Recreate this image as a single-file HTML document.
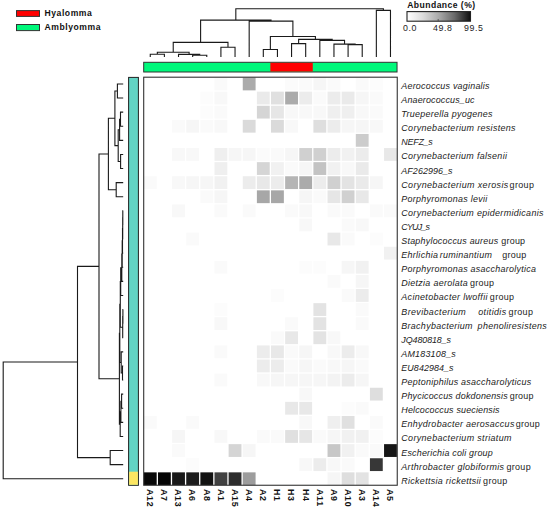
<!DOCTYPE html><html><head><meta charset="utf-8"><style>html,body{margin:0;padding:0;background:#fff;}svg{display:block;}text{font-family:"Liberation Sans",sans-serif;}</style></head><body>
<svg width="550" height="509" viewBox="0 0 550 509">
<rect width="550" height="509" fill="#fff"/>
<rect x="16.5" y="10.6" width="23" height="5.8" fill="#ff0000" stroke="#333" stroke-width="1"/>
<rect x="16.5" y="24.5" width="23" height="6.1" fill="#00f87b" stroke="#333" stroke-width="1"/>
<text x="44.5" y="16.2" font-size="8.6" font-weight="bold" letter-spacing="0.55" fill="#111">Hyalomma</text>
<text x="44.5" y="30.0" font-size="8.6" font-weight="bold" letter-spacing="0.55" fill="#111">Amblyomma</text>
<defs><linearGradient id="gb" x1="0" x2="1" y1="0" y2="0"><stop offset="0" stop-color="#fff"/><stop offset="0.25" stop-color="rgb(220,220,220)"/><stop offset="0.5" stop-color="rgb(170,170,170)"/><stop offset="0.75" stop-color="rgb(105,105,105)"/><stop offset="1" stop-color="rgb(15,15,15)"/></linearGradient></defs>
<text x="407.2" y="8.0" font-size="8.6" font-weight="bold" letter-spacing="0.45" fill="#111">Abundance (%)</text>
<rect x="407.0" y="11.6" width="63.5" height="9.6" fill="url(#gb)" stroke="#222" stroke-width="1.1"/>
<line x1="438.2" y1="19" x2="438.2" y2="21" stroke="#444" stroke-width="0.8"/>
<text x="402.9" y="31" font-size="8.8" letter-spacing="0.6" fill="#222">0.0</text>
<text x="432.9" y="31" font-size="8.8" letter-spacing="0.6" fill="#222">49.8</text>
<text x="464.1" y="31" font-size="8.8" letter-spacing="0.6" fill="#222">99.5</text>
<path d="M150.26,57.00V54.30H164.39V57.00M192.66,57.00V55.30H206.78V57.00M178.52,57.00V54.40H199.72V55.30M157.33,54.30V52.20H189.12V54.40M220.91,57.00V47.30H235.04V57.00M173.23,52.20V42.40H227.98V47.30M263.31,57.00V49.50H277.44V57.00M291.56,57.00V43.60H305.69V57.00M348.09,57.00V44.60H362.22V57.00M333.96,57.00V44.10H355.15V44.60M319.82,57.00V40.40H344.55V44.10M298.63,43.60V39.40H332.19V40.40M270.37,49.50V36.50H315.41V39.40M249.18,57.00V21.10H292.89V36.50M200.60,42.40V20.10H271.03V21.10M376.35,57.00V10.40H390.48V57.00M235.82,20.10V8.70H383.41V10.40" fill="none" stroke="#1a1a1a" stroke-width="1.1"/>
<path d="M123.20,83.95H117.40V98.05H123.20M123.20,112.15H120.50V126.25H123.20M120.50,119.20H119.60V140.35H123.20M123.20,154.45H120.60V168.55H123.20M119.60,129.78H118.20V161.50H120.60M117.40,91.00H114.90V145.64H118.20M123.20,182.65H116.20V196.75H123.20M114.90,118.32H108.40V189.70H116.20M123.20,210.85H122.80V224.95H123.20M122.80,217.90H122.70V239.05H123.20M122.70,228.47H122.50V253.15H123.20M122.50,240.81H122.20V267.25H123.20M122.20,254.03H121.80V281.35H123.20M121.80,267.69H120.70V295.45H123.20M123.20,309.55H122.90V323.65H123.20M122.90,316.60H122.70V337.75H123.20M120.70,281.57H120.30V327.18H122.70M123.20,365.95H122.50V380.05H123.20M123.20,351.85H121.20V373.00H122.50M120.30,304.37H119.80V362.43H121.20M123.20,394.15H121.60V408.25H123.20M121.60,401.20H120.90V422.35H123.20M120.90,411.77H120.20V436.45H123.20M119.80,333.40H119.40V424.11H120.20M108.40,154.01H99.00V378.76H119.40M123.20,450.55H110.20V464.65H123.20M99.00,266.38H77.50V457.60H110.20M77.50,361.99H3.20V478.75H123.20" fill="none" stroke="#1a1a1a" stroke-width="1.1"/>
<rect x="143.70" y="62.3" width="253.34" height="9.7" fill="#00f87b" stroke="#333" stroke-width="1"/>
<rect x="270.37" y="62.8" width="42.39" height="8.7" fill="#ff0000"/>
<rect x="128.6" y="77.40" width="9.8" height="407.90" fill="#62d3c4" stroke="#222" stroke-width="1"/>
<rect x="129.1" y="471.70" width="8.8" height="13.10" fill="#fde662"/>
<rect x="214.50" y="77.55" width="12.83" height="12.80" fill="rgb(250,250,250)"/>
<rect x="242.76" y="77.55" width="12.83" height="12.80" fill="rgb(171,171,171)"/>
<rect x="285.15" y="77.55" width="12.83" height="12.80" fill="rgb(251,251,251)"/>
<rect x="299.28" y="77.55" width="12.83" height="12.80" fill="rgb(250,250,250)"/>
<rect x="313.41" y="77.55" width="12.83" height="12.80" fill="rgb(246,246,246)"/>
<rect x="327.54" y="77.55" width="12.83" height="12.80" fill="rgb(250,250,250)"/>
<rect x="355.80" y="77.55" width="12.83" height="12.80" fill="rgb(250,250,250)"/>
<rect x="369.93" y="77.55" width="12.83" height="12.80" fill="rgb(252,252,252)"/>
<rect x="200.37" y="91.65" width="12.83" height="12.80" fill="rgb(252,252,252)"/>
<rect x="214.50" y="91.65" width="12.83" height="12.80" fill="rgb(248,248,248)"/>
<rect x="256.89" y="91.65" width="12.83" height="12.80" fill="rgb(234,234,234)"/>
<rect x="271.02" y="91.65" width="12.83" height="12.80" fill="rgb(224,224,224)"/>
<rect x="285.15" y="91.65" width="12.83" height="12.80" fill="rgb(171,171,171)"/>
<rect x="299.28" y="91.65" width="12.83" height="12.80" fill="rgb(236,236,236)"/>
<rect x="313.41" y="91.65" width="12.83" height="12.80" fill="rgb(250,250,250)"/>
<rect x="327.54" y="91.65" width="12.83" height="12.80" fill="rgb(236,236,236)"/>
<rect x="341.67" y="91.65" width="12.83" height="12.80" fill="rgb(234,234,234)"/>
<rect x="355.80" y="91.65" width="12.83" height="12.80" fill="rgb(246,246,246)"/>
<rect x="369.93" y="91.65" width="12.83" height="12.80" fill="rgb(250,250,250)"/>
<rect x="200.37" y="105.75" width="12.83" height="12.80" fill="rgb(252,252,252)"/>
<rect x="214.50" y="105.75" width="12.83" height="12.80" fill="rgb(250,250,250)"/>
<rect x="256.89" y="105.75" width="12.83" height="12.80" fill="rgb(213,213,213)"/>
<rect x="271.02" y="105.75" width="12.83" height="12.80" fill="rgb(230,230,230)"/>
<rect x="285.15" y="105.75" width="12.83" height="12.80" fill="rgb(248,248,248)"/>
<rect x="299.28" y="105.75" width="12.83" height="12.80" fill="rgb(248,248,248)"/>
<rect x="313.41" y="105.75" width="12.83" height="12.80" fill="rgb(248,248,248)"/>
<rect x="327.54" y="105.75" width="12.83" height="12.80" fill="rgb(239,239,239)"/>
<rect x="341.67" y="105.75" width="12.83" height="12.80" fill="rgb(239,239,239)"/>
<rect x="355.80" y="105.75" width="12.83" height="12.80" fill="rgb(248,248,248)"/>
<rect x="369.93" y="105.75" width="12.83" height="12.80" fill="rgb(250,250,250)"/>
<rect x="172.11" y="119.85" width="12.83" height="12.80" fill="rgb(250,250,250)"/>
<rect x="186.24" y="119.85" width="12.83" height="12.80" fill="rgb(246,246,246)"/>
<rect x="200.37" y="119.85" width="12.83" height="12.80" fill="rgb(250,250,250)"/>
<rect x="214.50" y="119.85" width="12.83" height="12.80" fill="rgb(248,248,248)"/>
<rect x="242.76" y="119.85" width="12.83" height="12.80" fill="rgb(218,218,218)"/>
<rect x="271.02" y="119.85" width="12.83" height="12.80" fill="rgb(218,218,218)"/>
<rect x="285.15" y="119.85" width="12.83" height="12.80" fill="rgb(248,248,248)"/>
<rect x="313.41" y="119.85" width="12.83" height="12.80" fill="rgb(222,222,222)"/>
<rect x="327.54" y="119.85" width="12.83" height="12.80" fill="rgb(236,236,236)"/>
<rect x="341.67" y="119.85" width="12.83" height="12.80" fill="rgb(246,246,246)"/>
<rect x="355.80" y="119.85" width="12.83" height="12.80" fill="rgb(246,246,246)"/>
<rect x="369.93" y="119.85" width="12.83" height="12.80" fill="rgb(248,248,248)"/>
<rect x="355.80" y="133.95" width="12.83" height="12.80" fill="rgb(204,204,204)"/>
<rect x="172.11" y="148.05" width="12.83" height="12.80" fill="rgb(248,248,248)"/>
<rect x="186.24" y="148.05" width="12.83" height="12.80" fill="rgb(248,248,248)"/>
<rect x="214.50" y="148.05" width="12.83" height="12.80" fill="rgb(239,239,239)"/>
<rect x="228.63" y="148.05" width="12.83" height="12.80" fill="rgb(246,246,246)"/>
<rect x="242.76" y="148.05" width="12.83" height="12.80" fill="rgb(246,246,246)"/>
<rect x="256.89" y="148.05" width="12.83" height="12.80" fill="rgb(251,251,251)"/>
<rect x="271.02" y="148.05" width="12.83" height="12.80" fill="rgb(250,250,250)"/>
<rect x="285.15" y="148.05" width="12.83" height="12.80" fill="rgb(246,246,246)"/>
<rect x="299.28" y="148.05" width="12.83" height="12.80" fill="rgb(208,208,208)"/>
<rect x="313.41" y="148.05" width="12.83" height="12.80" fill="rgb(208,208,208)"/>
<rect x="327.54" y="148.05" width="12.83" height="12.80" fill="rgb(236,236,236)"/>
<rect x="341.67" y="148.05" width="12.83" height="12.80" fill="rgb(241,241,241)"/>
<rect x="355.80" y="148.05" width="12.83" height="12.80" fill="rgb(236,236,236)"/>
<rect x="384.06" y="148.05" width="12.83" height="12.80" fill="rgb(232,232,232)"/>
<rect x="214.50" y="162.15" width="12.83" height="12.80" fill="rgb(239,239,239)"/>
<rect x="256.89" y="162.15" width="12.83" height="12.80" fill="rgb(213,213,213)"/>
<rect x="271.02" y="162.15" width="12.83" height="12.80" fill="rgb(241,241,241)"/>
<rect x="285.15" y="162.15" width="12.83" height="12.80" fill="rgb(250,250,250)"/>
<rect x="299.28" y="162.15" width="12.83" height="12.80" fill="rgb(246,246,246)"/>
<rect x="313.41" y="162.15" width="12.83" height="12.80" fill="rgb(195,195,195)"/>
<rect x="327.54" y="162.15" width="12.83" height="12.80" fill="rgb(241,241,241)"/>
<rect x="341.67" y="162.15" width="12.83" height="12.80" fill="rgb(248,248,248)"/>
<rect x="355.80" y="162.15" width="12.83" height="12.80" fill="rgb(234,234,234)"/>
<rect x="143.85" y="176.25" width="12.83" height="12.80" fill="rgb(250,250,250)"/>
<rect x="172.11" y="176.25" width="12.83" height="12.80" fill="rgb(248,248,248)"/>
<rect x="186.24" y="176.25" width="12.83" height="12.80" fill="rgb(246,246,246)"/>
<rect x="200.37" y="176.25" width="12.83" height="12.80" fill="rgb(246,246,246)"/>
<rect x="214.50" y="176.25" width="12.83" height="12.80" fill="rgb(241,241,241)"/>
<rect x="242.76" y="176.25" width="12.83" height="12.80" fill="rgb(236,236,236)"/>
<rect x="256.89" y="176.25" width="12.83" height="12.80" fill="rgb(232,232,232)"/>
<rect x="271.02" y="176.25" width="12.83" height="12.80" fill="rgb(236,236,236)"/>
<rect x="285.15" y="176.25" width="12.83" height="12.80" fill="rgb(181,181,181)"/>
<rect x="299.28" y="176.25" width="12.83" height="12.80" fill="rgb(171,171,171)"/>
<rect x="313.41" y="176.25" width="12.83" height="12.80" fill="rgb(236,236,236)"/>
<rect x="327.54" y="176.25" width="12.83" height="12.80" fill="rgb(208,208,208)"/>
<rect x="341.67" y="176.25" width="12.83" height="12.80" fill="rgb(227,227,227)"/>
<rect x="355.80" y="176.25" width="12.83" height="12.80" fill="rgb(234,234,234)"/>
<rect x="369.93" y="176.25" width="12.83" height="12.80" fill="rgb(246,246,246)"/>
<rect x="200.37" y="190.35" width="12.83" height="12.80" fill="rgb(250,250,250)"/>
<rect x="214.50" y="190.35" width="12.83" height="12.80" fill="rgb(246,246,246)"/>
<rect x="256.89" y="190.35" width="12.83" height="12.80" fill="rgb(167,167,167)"/>
<rect x="271.02" y="190.35" width="12.83" height="12.80" fill="rgb(167,167,167)"/>
<rect x="299.28" y="190.35" width="12.83" height="12.80" fill="rgb(246,246,246)"/>
<rect x="313.41" y="190.35" width="12.83" height="12.80" fill="rgb(250,250,250)"/>
<rect x="327.54" y="190.35" width="12.83" height="12.80" fill="rgb(230,230,230)"/>
<rect x="341.67" y="190.35" width="12.83" height="12.80" fill="rgb(208,208,208)"/>
<rect x="355.80" y="190.35" width="12.83" height="12.80" fill="rgb(232,232,232)"/>
<rect x="172.11" y="204.45" width="12.83" height="12.80" fill="rgb(248,248,248)"/>
<rect x="214.50" y="204.45" width="12.83" height="12.80" fill="rgb(250,250,250)"/>
<rect x="242.76" y="204.45" width="12.83" height="12.80" fill="rgb(250,250,250)"/>
<rect x="285.15" y="204.45" width="12.83" height="12.80" fill="rgb(250,250,250)"/>
<rect x="299.28" y="204.45" width="12.83" height="12.80" fill="rgb(248,248,248)"/>
<rect x="327.54" y="204.45" width="12.83" height="12.80" fill="rgb(250,250,250)"/>
<rect x="341.67" y="204.45" width="12.83" height="12.80" fill="rgb(250,250,250)"/>
<rect x="369.93" y="204.45" width="12.83" height="12.80" fill="rgb(250,250,250)"/>
<rect x="384.06" y="204.45" width="12.83" height="12.80" fill="rgb(250,250,250)"/>
<rect x="299.28" y="218.55" width="12.83" height="12.80" fill="rgb(248,248,248)"/>
<rect x="341.67" y="218.55" width="12.83" height="12.80" fill="rgb(250,250,250)"/>
<rect x="355.80" y="218.55" width="12.83" height="12.80" fill="rgb(248,248,248)"/>
<rect x="186.24" y="232.65" width="12.83" height="12.80" fill="rgb(250,250,250)"/>
<rect x="327.54" y="232.65" width="12.83" height="12.80" fill="rgb(232,232,232)"/>
<rect x="341.67" y="232.65" width="12.83" height="12.80" fill="rgb(250,250,250)"/>
<rect x="369.93" y="232.65" width="12.83" height="12.80" fill="rgb(252,252,252)"/>
<rect x="384.06" y="246.75" width="12.83" height="12.80" fill="rgb(241,241,241)"/>
<rect x="214.50" y="260.85" width="12.83" height="12.80" fill="rgb(250,250,250)"/>
<rect x="299.28" y="260.85" width="12.83" height="12.80" fill="rgb(252,252,252)"/>
<rect x="313.41" y="260.85" width="12.83" height="12.80" fill="rgb(252,252,252)"/>
<rect x="341.67" y="260.85" width="12.83" height="12.80" fill="rgb(246,246,246)"/>
<rect x="355.80" y="260.85" width="12.83" height="12.80" fill="rgb(241,241,241)"/>
<rect x="327.54" y="274.95" width="12.83" height="12.80" fill="rgb(250,250,250)"/>
<rect x="355.80" y="274.95" width="12.83" height="12.80" fill="rgb(246,246,246)"/>
<rect x="271.02" y="289.05" width="12.83" height="12.80" fill="rgb(252,252,252)"/>
<rect x="341.67" y="289.05" width="12.83" height="12.80" fill="rgb(250,250,250)"/>
<rect x="355.80" y="289.05" width="12.83" height="12.80" fill="rgb(236,236,236)"/>
<rect x="214.50" y="303.15" width="12.83" height="12.80" fill="rgb(252,252,252)"/>
<rect x="313.41" y="303.15" width="12.83" height="12.80" fill="rgb(227,227,227)"/>
<rect x="355.80" y="303.15" width="12.83" height="12.80" fill="rgb(250,250,250)"/>
<rect x="214.50" y="317.25" width="12.83" height="12.80" fill="rgb(248,248,248)"/>
<rect x="285.15" y="317.25" width="12.83" height="12.80" fill="rgb(250,250,250)"/>
<rect x="313.41" y="317.25" width="12.83" height="12.80" fill="rgb(227,227,227)"/>
<rect x="355.80" y="317.25" width="12.83" height="12.80" fill="rgb(250,250,250)"/>
<rect x="271.02" y="331.35" width="12.83" height="12.80" fill="rgb(250,250,250)"/>
<rect x="285.15" y="331.35" width="12.83" height="12.80" fill="rgb(232,232,232)"/>
<rect x="313.41" y="331.35" width="12.83" height="12.80" fill="rgb(227,227,227)"/>
<rect x="327.54" y="331.35" width="12.83" height="12.80" fill="rgb(248,248,248)"/>
<rect x="214.50" y="345.45" width="12.83" height="12.80" fill="rgb(250,250,250)"/>
<rect x="256.89" y="345.45" width="12.83" height="12.80" fill="rgb(236,236,236)"/>
<rect x="271.02" y="345.45" width="12.83" height="12.80" fill="rgb(232,232,232)"/>
<rect x="285.15" y="345.45" width="12.83" height="12.80" fill="rgb(250,250,250)"/>
<rect x="299.28" y="345.45" width="12.83" height="12.80" fill="rgb(246,246,246)"/>
<rect x="327.54" y="345.45" width="12.83" height="12.80" fill="rgb(248,248,248)"/>
<rect x="341.67" y="345.45" width="12.83" height="12.80" fill="rgb(236,236,236)"/>
<rect x="355.80" y="345.45" width="12.83" height="12.80" fill="rgb(248,248,248)"/>
<rect x="256.89" y="359.55" width="12.83" height="12.80" fill="rgb(236,236,236)"/>
<rect x="271.02" y="359.55" width="12.83" height="12.80" fill="rgb(236,236,236)"/>
<rect x="285.15" y="359.55" width="12.83" height="12.80" fill="rgb(250,250,250)"/>
<rect x="299.28" y="359.55" width="12.83" height="12.80" fill="rgb(246,246,246)"/>
<rect x="313.41" y="359.55" width="12.83" height="12.80" fill="rgb(250,250,250)"/>
<rect x="327.54" y="359.55" width="12.83" height="12.80" fill="rgb(248,248,248)"/>
<rect x="341.67" y="359.55" width="12.83" height="12.80" fill="rgb(246,246,246)"/>
<rect x="355.80" y="359.55" width="12.83" height="12.80" fill="rgb(250,250,250)"/>
<rect x="214.50" y="373.65" width="12.83" height="12.80" fill="rgb(250,250,250)"/>
<rect x="256.89" y="373.65" width="12.83" height="12.80" fill="rgb(248,248,248)"/>
<rect x="271.02" y="373.65" width="12.83" height="12.80" fill="rgb(246,246,246)"/>
<rect x="285.15" y="373.65" width="12.83" height="12.80" fill="rgb(246,246,246)"/>
<rect x="299.28" y="373.65" width="12.83" height="12.80" fill="rgb(246,246,246)"/>
<rect x="313.41" y="373.65" width="12.83" height="12.80" fill="rgb(246,246,246)"/>
<rect x="327.54" y="373.65" width="12.83" height="12.80" fill="rgb(243,243,243)"/>
<rect x="341.67" y="373.65" width="12.83" height="12.80" fill="rgb(236,236,236)"/>
<rect x="355.80" y="373.65" width="12.83" height="12.80" fill="rgb(246,246,246)"/>
<rect x="299.28" y="387.75" width="12.83" height="12.80" fill="rgb(248,248,248)"/>
<rect x="369.93" y="387.75" width="12.83" height="12.80" fill="rgb(222,222,222)"/>
<rect x="285.15" y="401.85" width="12.83" height="12.80" fill="rgb(232,232,232)"/>
<rect x="299.28" y="401.85" width="12.83" height="12.80" fill="rgb(232,232,232)"/>
<rect x="341.67" y="401.85" width="12.83" height="12.80" fill="rgb(252,252,252)"/>
<rect x="355.80" y="401.85" width="12.83" height="12.80" fill="rgb(250,250,250)"/>
<rect x="143.85" y="415.95" width="12.83" height="12.80" fill="rgb(250,250,250)"/>
<rect x="186.24" y="415.95" width="12.83" height="12.80" fill="rgb(250,250,250)"/>
<rect x="299.28" y="415.95" width="12.83" height="12.80" fill="rgb(248,248,248)"/>
<rect x="327.54" y="415.95" width="12.83" height="12.80" fill="rgb(239,239,239)"/>
<rect x="341.67" y="415.95" width="12.83" height="12.80" fill="rgb(224,224,224)"/>
<rect x="369.93" y="415.95" width="12.83" height="12.80" fill="rgb(250,250,250)"/>
<rect x="172.11" y="430.05" width="12.83" height="12.80" fill="rgb(246,246,246)"/>
<rect x="214.50" y="430.05" width="12.83" height="12.80" fill="rgb(248,248,248)"/>
<rect x="256.89" y="430.05" width="12.83" height="12.80" fill="rgb(250,250,250)"/>
<rect x="271.02" y="430.05" width="12.83" height="12.80" fill="rgb(250,250,250)"/>
<rect x="285.15" y="430.05" width="12.83" height="12.80" fill="rgb(224,224,224)"/>
<rect x="299.28" y="430.05" width="12.83" height="12.80" fill="rgb(230,230,230)"/>
<rect x="313.41" y="430.05" width="12.83" height="12.80" fill="rgb(250,250,250)"/>
<rect x="327.54" y="430.05" width="12.83" height="12.80" fill="rgb(246,246,246)"/>
<rect x="341.67" y="430.05" width="12.83" height="12.80" fill="rgb(241,241,241)"/>
<rect x="355.80" y="430.05" width="12.83" height="12.80" fill="rgb(241,241,241)"/>
<rect x="369.93" y="430.05" width="12.83" height="12.80" fill="rgb(252,252,252)"/>
<rect x="172.11" y="444.15" width="12.83" height="12.80" fill="rgb(250,250,250)"/>
<rect x="228.63" y="444.15" width="12.83" height="12.80" fill="rgb(213,213,213)"/>
<rect x="242.76" y="444.15" width="12.83" height="12.80" fill="rgb(246,246,246)"/>
<rect x="327.54" y="444.15" width="12.83" height="12.80" fill="rgb(199,199,199)"/>
<rect x="341.67" y="444.15" width="12.83" height="12.80" fill="rgb(241,241,241)"/>
<rect x="355.80" y="444.15" width="12.83" height="12.80" fill="rgb(250,250,250)"/>
<rect x="369.93" y="444.15" width="12.83" height="12.80" fill="rgb(250,250,250)"/>
<rect x="384.06" y="444.15" width="12.83" height="12.80" fill="rgb(22,22,22)"/>
<rect x="186.24" y="458.25" width="12.83" height="12.80" fill="rgb(252,252,252)"/>
<rect x="299.28" y="458.25" width="12.83" height="12.80" fill="rgb(248,248,248)"/>
<rect x="313.41" y="458.25" width="12.83" height="12.80" fill="rgb(236,236,236)"/>
<rect x="327.54" y="458.25" width="12.83" height="12.80" fill="rgb(248,248,248)"/>
<rect x="341.67" y="458.25" width="12.83" height="12.80" fill="rgb(250,250,250)"/>
<rect x="369.93" y="458.25" width="12.83" height="12.80" fill="rgb(55,55,55)"/>
<rect x="143.85" y="472.35" width="12.83" height="12.80" fill="rgb(8,8,8)"/>
<rect x="157.98" y="472.35" width="12.83" height="12.80" fill="rgb(5,5,5)"/>
<rect x="172.11" y="472.35" width="12.83" height="12.80" fill="rgb(25,25,25)"/>
<rect x="186.24" y="472.35" width="12.83" height="12.80" fill="rgb(28,28,28)"/>
<rect x="200.37" y="472.35" width="12.83" height="12.80" fill="rgb(18,18,18)"/>
<rect x="214.50" y="472.35" width="12.83" height="12.80" fill="rgb(65,65,65)"/>
<rect x="228.63" y="472.35" width="12.83" height="12.80" fill="rgb(45,45,45)"/>
<rect x="242.76" y="472.35" width="12.83" height="12.80" fill="rgb(157,157,157)"/>
<rect x="327.54" y="472.35" width="12.83" height="12.80" fill="rgb(246,246,246)"/>
<rect x="341.67" y="472.35" width="12.83" height="12.80" fill="rgb(222,222,222)"/>
<rect x="355.80" y="472.35" width="12.83" height="12.80" fill="rgb(227,227,227)"/>
<rect x="143.7" y="77.2" width="253.55" height="408.05" fill="none" stroke="#333" stroke-width="1.1"/>
<text x="401.3" y="88.95" font-size="8.95" fill="#222" letter-spacing="0.221"><tspan font-style="italic">Aerococcus vaginalis</tspan></text>
<text x="401.3" y="103.05" font-size="8.95" fill="#222" letter-spacing="0.157"><tspan font-style="italic">Anaerococcus_uc</tspan></text>
<text x="401.3" y="117.15" font-size="8.95" fill="#222" letter-spacing="0.289"><tspan font-style="italic">Trueperella pyogenes</tspan></text>
<text x="401.3" y="131.25" font-size="8.95" fill="#222" letter-spacing="0.333"><tspan font-style="italic">Corynebacterium resistens</tspan></text>
<text x="401.3" y="145.35" font-size="8.95" fill="#222" letter-spacing="-0.260"><tspan font-style="italic">NEFZ_s</tspan></text>
<text x="401.3" y="159.45" font-size="8.95" fill="#222" letter-spacing="0.317"><tspan font-style="italic">Corynebacterium falsenii</tspan></text>
<text x="401.3" y="173.55" font-size="8.95" fill="#222" letter-spacing="0.067"><tspan font-style="italic">AF262996_s</tspan></text>
<text x="401.3" y="187.65" font-size="8.95" fill="#222" letter-spacing="0.367"><tspan font-style="italic">Corynebacterium xerosis</tspan><tspan dx="1">group</tspan></text>
<text x="401.3" y="201.75" font-size="8.95" fill="#222" letter-spacing="0.278"><tspan font-style="italic">Porphyromonas levii</tspan></text>
<text x="401.3" y="215.85" font-size="8.95" fill="#222" letter-spacing="0.317"><tspan font-style="italic">Corynebacterium epidermidicanis</tspan></text>
<text x="401.3" y="229.95" font-size="8.95" fill="#222" letter-spacing="-0.840"><tspan font-style="italic">CYUJ_s</tspan></text>
<text x="401.3" y="244.05" font-size="8.95" fill="#222" letter-spacing="0.220"><tspan font-style="italic">Staphylococcus aureus</tspan><tspan dx="3">group</tspan></text>
<text x="401.3" y="258.15" font-size="8.95" fill="#222" letter-spacing="0.296"><tspan font-style="italic">Ehrlichia<tspan dx="-1.3"> </tspan>ruminantium</tspan><tspan dx="10">group</tspan></text>
<text x="401.3" y="272.25" font-size="8.95" fill="#222" letter-spacing="0.268"><tspan font-style="italic">Porphyromonas asaccharolytica</tspan></text>
<text x="401.3" y="286.35" font-size="8.95" fill="#222" letter-spacing="0.285"><tspan font-style="italic">Dietzia aerolata</tspan><tspan dx="2">group</tspan></text>
<text x="401.3" y="300.45" font-size="8.95" fill="#222" letter-spacing="0.336"><tspan font-style="italic">Acinetobacter lwoffii</tspan><tspan dx="2">group</tspan></text>
<text x="401.3" y="314.55" font-size="8.95" fill="#222" letter-spacing="0.371"><tspan font-style="italic">Brevibacterium  otitidis</tspan><tspan dx="2">group</tspan></text>
<text x="401.3" y="328.65" font-size="8.95" fill="#222" letter-spacing="0.300"><tspan font-style="italic">Brachybacterium phenoliresistens</tspan></text>
<text x="401.3" y="342.75" font-size="8.95" fill="#222" letter-spacing="-0.100"><tspan font-style="italic">JQ480818_s</tspan></text>
<text x="401.3" y="356.85" font-size="8.95" fill="#222" letter-spacing="0.200"><tspan font-style="italic">AM183108_s</tspan></text>
<text x="401.3" y="370.95" font-size="8.95" fill="#222" letter-spacing="0.067"><tspan font-style="italic">EU842984_s</tspan></text>
<text x="401.3" y="385.05" font-size="8.95" fill="#222" letter-spacing="0.262"><tspan font-style="italic">Peptoniphilus asaccharolyticus</tspan></text>
<text x="401.3" y="399.15" font-size="8.95" fill="#222" letter-spacing="0.181"><tspan font-style="italic">Phycicoccus dokdonensis</tspan><tspan dx="2">group</tspan></text>
<text x="401.3" y="413.25" font-size="8.95" fill="#222" letter-spacing="0.162"><tspan font-style="italic">Helcococcus sueciensis</tspan></text>
<text x="401.3" y="427.35" font-size="8.95" fill="#222" letter-spacing="0.293"><tspan font-style="italic">Enhydrobacter aerosaccus</tspan><tspan dx="1">group</tspan></text>
<text x="401.3" y="441.45" font-size="8.95" fill="#222" letter-spacing="0.339"><tspan font-style="italic">Corynebacterium striatum</tspan></text>
<text x="401.3" y="455.55" font-size="8.95" fill="#222" letter-spacing="0.190"><tspan font-style="italic">Escherichia coli group</tspan></text>
<text x="401.3" y="469.65" font-size="8.95" fill="#222" letter-spacing="0.343"><tspan font-style="italic">Arthrobacter globiformis</tspan><tspan dx="2">group</tspan></text>
<text x="401.3" y="483.75" font-size="8.95" fill="#222" letter-spacing="0.300"><tspan font-style="italic">Rickettsia rickettsii</tspan><tspan dx="2">group</tspan></text>
<text transform="translate(147.06,488.90) rotate(90)" font-size="8.9" font-weight="bold" fill="#111" letter-spacing="0.75">A12</text>
<text transform="translate(161.19,488.90) rotate(90)" font-size="8.9" font-weight="bold" fill="#111" letter-spacing="0.75">A7</text>
<text transform="translate(175.32,488.90) rotate(90)" font-size="8.9" font-weight="bold" fill="#111" letter-spacing="0.75">A13</text>
<text transform="translate(189.46,488.90) rotate(90)" font-size="8.9" font-weight="bold" fill="#111" letter-spacing="0.75">A6</text>
<text transform="translate(203.59,488.90) rotate(90)" font-size="8.9" font-weight="bold" fill="#111" letter-spacing="0.75">A8</text>
<text transform="translate(217.72,488.90) rotate(90)" font-size="8.9" font-weight="bold" fill="#111" letter-spacing="0.75">A1</text>
<text transform="translate(231.84,488.90) rotate(90)" font-size="8.9" font-weight="bold" fill="#111" letter-spacing="0.75">A15</text>
<text transform="translate(245.98,488.90) rotate(90)" font-size="8.9" font-weight="bold" fill="#111" letter-spacing="0.75">A4</text>
<text transform="translate(260.11,488.90) rotate(90)" font-size="8.9" font-weight="bold" fill="#111" letter-spacing="0.75">A2</text>
<text transform="translate(274.24,488.90) rotate(90)" font-size="8.9" font-weight="bold" fill="#111" letter-spacing="0.75">H1</text>
<text transform="translate(288.37,488.90) rotate(90)" font-size="8.9" font-weight="bold" fill="#111" letter-spacing="0.75">H3</text>
<text transform="translate(302.50,488.90) rotate(90)" font-size="8.9" font-weight="bold" fill="#111" letter-spacing="0.75">H4</text>
<text transform="translate(316.62,488.90) rotate(90)" font-size="8.9" font-weight="bold" fill="#111" letter-spacing="0.75">A11</text>
<text transform="translate(330.76,488.90) rotate(90)" font-size="8.9" font-weight="bold" fill="#111" letter-spacing="0.75">A9</text>
<text transform="translate(344.89,488.90) rotate(90)" font-size="8.9" font-weight="bold" fill="#111" letter-spacing="0.75">A10</text>
<text transform="translate(359.02,488.90) rotate(90)" font-size="8.9" font-weight="bold" fill="#111" letter-spacing="0.75">A3</text>
<text transform="translate(373.15,488.90) rotate(90)" font-size="8.9" font-weight="bold" fill="#111" letter-spacing="0.75">A14</text>
<text transform="translate(387.28,488.90) rotate(90)" font-size="8.9" font-weight="bold" fill="#111" letter-spacing="0.75">A5</text>
</svg></body></html>
